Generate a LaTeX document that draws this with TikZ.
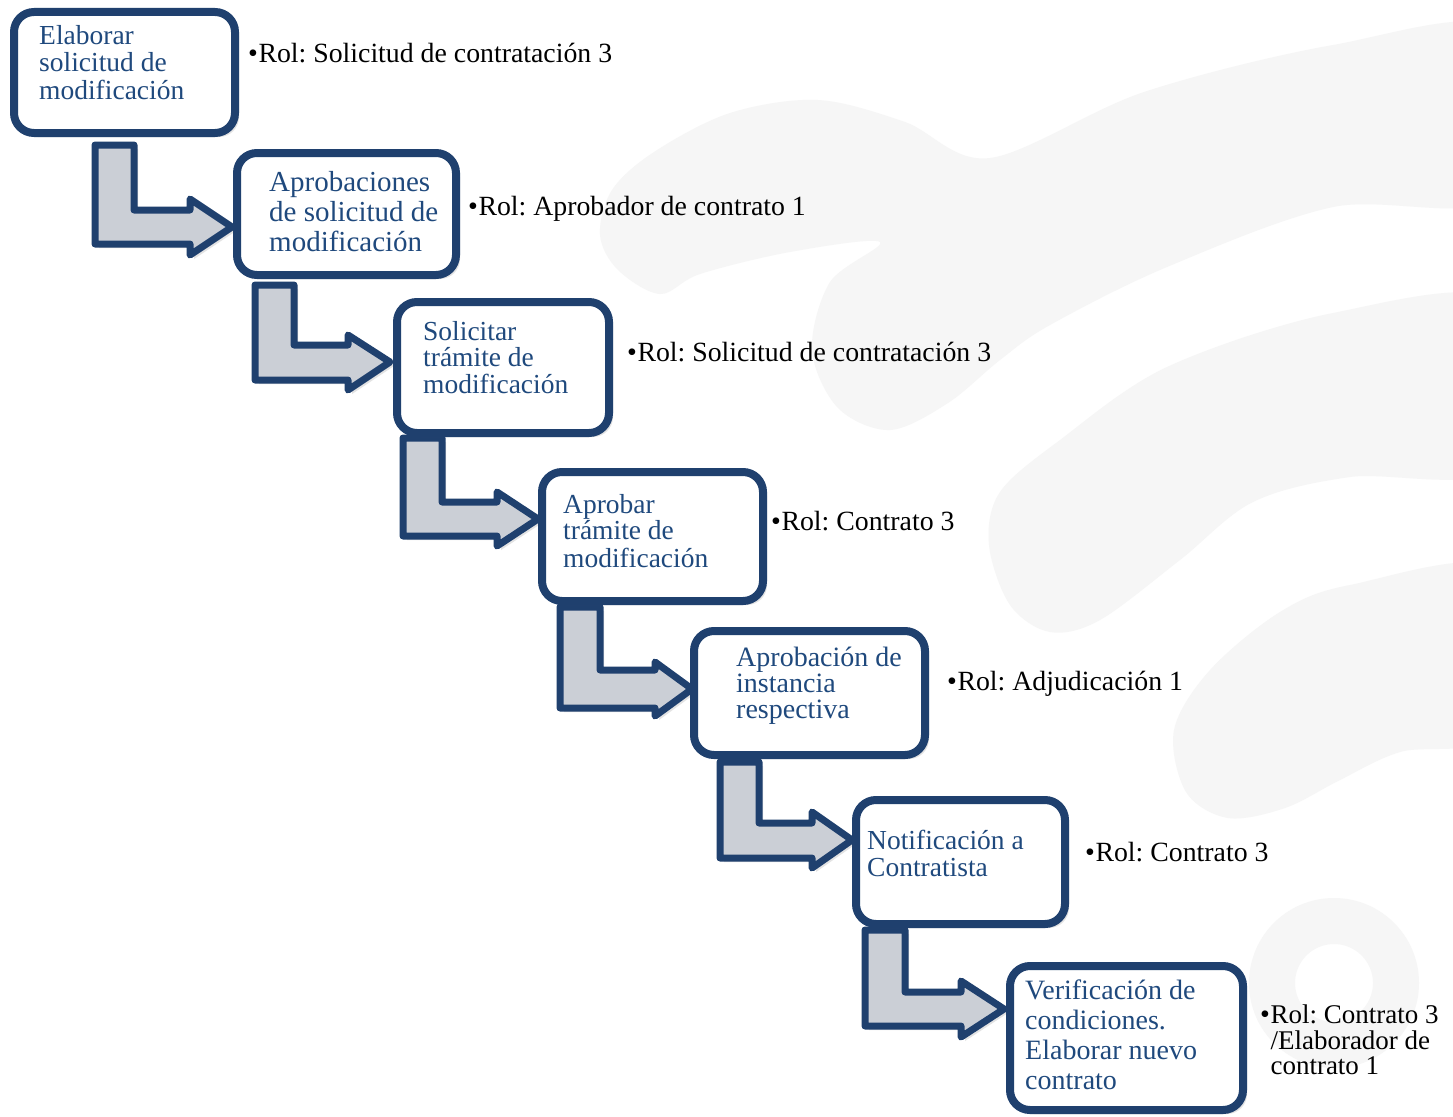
\documentclass[tikz,border=0pt]{standalone}
\usepackage{fontspec}
\setmainfont{Liberation Serif}
\usetikzlibrary{shadows}
\frenchspacing
\definecolor{boxblue}{RGB}{31,64,110}
\definecolor{txtblue}{RGB}{31,73,125}
\definecolor{arrowgray}{RGB}{203,207,214}
\definecolor{wmark}{RGB}{246,246,246}
\tikzset{
  stepbox/.style={draw=boxblue, line width=8pt, fill=white, rounded corners=20pt, inner sep=0pt,
    drop shadow={shadow xshift=4pt, shadow yshift=-4pt, opacity=0.22}},
  bentarrow/.style={draw=boxblue, line width=7pt, fill=arrowgray, line join=round,
    drop shadow={shadow xshift=4pt, shadow yshift=-4pt, opacity=0.22}},
  steptext/.style={anchor=base west, inner sep=0pt, text=txtblue},
  roletext/.style={anchor=base west, inner sep=0pt, text=black},
  watermark/.style={fill=wmark, draw=none},
}
\newcommand\rolebullet{{\fontsize{28}{26}\selectfont •}\kern0.5pt}
\begin{document}
\begin{tikzpicture}[x=1pt, y=-1pt]
\useasboundingbox (0,0) rectangle (1453,1116);
\fill[white] (0,0) rectangle (1453,1116);
% faint background logo
\begin{scope}
\clip (0,0) rectangle (1453,1116);
\fill[watermark] plot[smooth cycle, tension=0.55] coordinates {
  (660,294) (618,270) (600,235) (612,190) (654,152) (730,113) (818,100) (905,122) (990,158)
  (1144,92) (1333,45) (1500,30) (1500,196) (1333,207) (1167,267) (1050,325) (1000,360)
  (948,403) (890,430) (838,408) (812,350) (830,282) (880,242) (790,252) (700,274)};
\fill[watermark] plot[smooth cycle, tension=0.55] coordinates {
  (1500,302) (1333,313) (1167,367) (1060,440) (1000,492) (989,545) (1010,605) (1050,632)
  (1100,620) (1180,560) (1253,502) (1350,477) (1500,466)};
\fill[watermark] plot[smooth cycle, tension=0.55] coordinates {
  (1500,570) (1350,585) (1280,612) (1210,670) (1174,730) (1186,792) (1228,818) (1285,808)
  (1340,780) (1400,752) (1500,730)};
\fill[watermark, even odd rule] (1334,983) circle (85pt) (1334,983) circle (39pt);
\end{scope}
% bent arrows
\draw[bentarrow] (95,145) -- (134,145) -- (134,210) -- (190,210) -- (190,199) -- (232,227) -- (190,255) -- (190,244) -- (95,244) -- cycle;
\draw[bentarrow] (255,285) -- (294,285) -- (294,345) -- (348,345) -- (348,335) -- (390,362) -- (348,390) -- (348,380) -- (255,380) -- cycle;
\draw[bentarrow] (403,438) -- (442,438) -- (442,502) -- (497,502) -- (497,492) -- (538,519) -- (497,546) -- (497,536) -- (403,536) -- cycle;
\draw[bentarrow] (560,607) -- (600,607) -- (600,670) -- (655,670) -- (655,662) -- (692,689) -- (655,716) -- (655,708) -- (560,708) -- cycle;
\draw[bentarrow] (720,762) -- (759,762) -- (759,823) -- (812,823) -- (812,812) -- (852,840) -- (812,868) -- (812,858) -- (720,858) -- cycle;
\draw[bentarrow] (865,930) -- (905,930) -- (905,992) -- (961,992) -- (961,981) -- (1004,1009) -- (961,1037) -- (961,1026) -- (865,1026) -- cycle;
% boxes
\node[stepbox, minimum width=221pt, minimum height=121pt] (b1) at (124.5,72.5) {};
\node[stepbox, minimum width=219pt, minimum height=122pt] (b2) at (346.5,214) {};
\node[stepbox, minimum width=212pt, minimum height=131pt] (b3) at (503,367.5) {};
\node[stepbox, minimum width=221pt, minimum height=129pt] (b4) at (652.5,536.5) {};
\node[stepbox, minimum width=231pt, minimum height=124pt] (b5) at (809.5,693) {};
\node[stepbox, minimum width=209pt, minimum height=124pt] (b6) at (960.5,862) {};
\node[stepbox, minimum width=233pt, minimum height=144pt] (b7) at (1126.5,1038) {};
% box texts
\node[steptext] (t1) at (39,45) {\fontsize{27.5}{26}\selectfont\begin{tabular}[t]{@{}l@{}}Elaborar\\solicitud de\\modificación\end{tabular}};
\node[steptext] (t2) at (269,191) {\fontsize{29}{30}\selectfont\begin{tabular}[t]{@{}l@{}}Aprobaciones\\de solicitud de\\modificación\end{tabular}};
\node[steptext] (t3) at (423,340) {\fontsize{27.5}{25}\selectfont\begin{tabular}[t]{@{}l@{}}Solicitar\\trámite de\\modificación\end{tabular}};
\node[steptext] (t4) at (563,513) {\fontsize{27.5}{26}\selectfont\begin{tabular}[t]{@{}l@{}}Aprobar\\trámite de\\modificación\end{tabular}};
\node[steptext] (t5) at (736,666) {\fontsize{28}{25.5}\selectfont\begin{tabular}[t]{@{}l@{}}Aprobación de\\instancia\\respectiva\end{tabular}};
\node[steptext] (t6) at (867,849) {\fontsize{27.5}{27}\selectfont\begin{tabular}[t]{@{}l@{}}Notificación a\\Contratista\end{tabular}};
\node[steptext] (t7) at (1025,999) {\fontsize{28}{30}\selectfont\begin{tabular}[t]{@{}l@{}}Verificación de\\condiciones.\\Elaborar nuevo\\contrato\end{tabular}};
% roles
\node[roletext] (r1) at (248,63) {\fontsize{27.8}{26}\selectfont \rolebullet Rol: Solicitud de contratación 3};
\node[roletext] (r2) at (468,215) {\fontsize{27.8}{26}\selectfont \rolebullet Rol: Aprobador de contrato 1};
\node[roletext] (r3) at (627,361) {\fontsize{27.8}{26}\selectfont \rolebullet Rol: Solicitud de contratación 3};
\node[roletext] (r4) at (771,530) {\fontsize{27.8}{26}\selectfont \rolebullet Rol: Contrato 3};
\node[roletext] (r5) at (947,690) {\fontsize{27.8}{26}\selectfont \rolebullet Rol: Adjudicación 1};
\node[roletext] (r6) at (1085,861) {\fontsize{27.8}{26}\selectfont \rolebullet Rol: Contrato 3};
\node[roletext] (r7) at (1260,1023) {\fontsize{27}{25.5}\selectfont\begin{tabular}[t]{@{}l@{}l@{}}\rolebullet&Rol: Contrato 3\\&/Elaborador de\\&contrato 1\end{tabular}};
\end{tikzpicture}
\end{document}
